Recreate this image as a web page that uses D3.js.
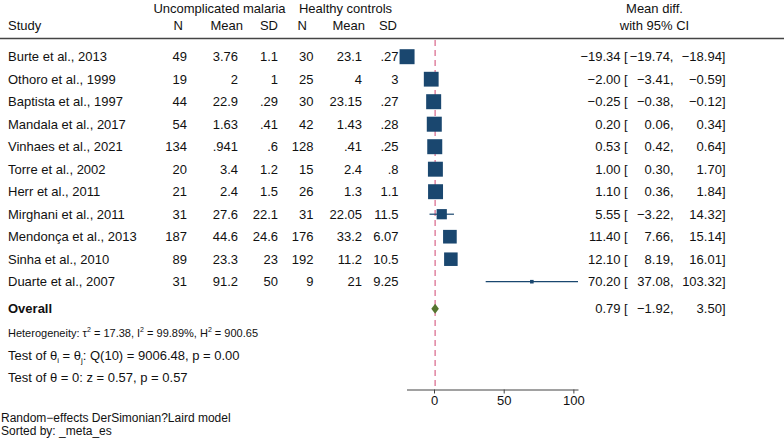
<!DOCTYPE html>
<html><head><meta charset="utf-8">
<script src="https://cdn.jsdelivr.net/npm/d3@7"></script>
<style>
html,body{margin:0;padding:0;background:#fff;}
svg text{font-family:"Liberation Sans",Arial,Helvetica,sans-serif;font-size:13px;fill:#111;}
</style></head>
<body><svg id="c" width="784" height="446"></svg>
<script>
const studies = ["Burte et al., 2013","Othoro et al., 1999","Baptista et al., 1997","Mandala et al., 2017","Vinhaes et al., 2021","Torre et al., 2002","Herr et al., 2011","Mirghani et al., 2011","Mendonça et al., 2013","Sinha et al., 2010","Duarte et al., 2007"];
const n1 = ["49","19","44","54","134","20","21","31","187","89","31"];
const mean1 = ["3.76","2","22.9","1.63",".941","3.4","2.4","27.6","44.6","23.3","91.2"];
const sd1 = ["1.1","1",".29",".41",".6","1.2","1.5","22.1","24.6","23","50"];
const n2 = ["30","25","30","42","128","15","26","31","176","192","9"];
const mean2 = ["23.1","4","23.15","1.43",".41","2.4","1.3","22.05","33.2","11.2","21"];
const sd2 = [".27","3",".27",".28",".25",".8","1.1","11.5","6.07","10.5","9.25"];
const es = [-19.34,-2.00,-0.25,0.20,0.53,1.00,1.10,5.55,11.40,12.10,70.20];
const lo = [-19.74,-3.41,-0.38,0.06,0.42,0.30,0.36,-3.22,7.66,8.19,37.08];
const hi = [-18.94,-0.59,-0.12,0.34,0.64,1.70,1.84,14.32,15.14,16.01,103.32];
const weights = [10.95,10.66,10.96,10.96,10.96,10.89,10.89,5.09,9.08,8.92,0.63];
const overall = {es:0.79, lo:-1.92, hi:3.50};
const xTicks = [0,50,100];

const svg = d3.select("#c");
const x = d3.scaleLinear().domain([d3.min(lo), d3.max(hi)]).range([406.5, 578.0]);
const y = d3.scaleLinear().domain([0,1]).range([56.7, 79.2]);
const size = d3.scaleSqrt().domain([0, d3.max(weights)]).range([0, 15]);
const fmt = d3.format(".2f");

// header
const hdr = svg.append("g");
hdr.append("text").attr("x",219.5).attr("y",8.5).attr("dy","0.35em").attr("text-anchor","middle").text("Uncomplicated malaria");
hdr.append("text").attr("x",345.5).attr("y",8.5).attr("dy","0.35em").attr("text-anchor","middle").text("Healthy controls");
hdr.append("text").attr("x",654.5).attr("y",8.5).attr("dy","0.35em").attr("text-anchor","middle").text("Mean diff.");
hdr.append("text").attr("x",8).attr("y",25).attr("dy","0.35em").text("Study");
const hcols = [["N",183],["Mean",243],["SD",278],["N",307],["Mean",365],["SD",397]];
hcols.forEach(([t,xx])=>hdr.append("text").attr("x",xx).attr("y",25).attr("dy","0.35em").attr("text-anchor","end").text(t));
hdr.append("text").attr("x",654.5).attr("y",25).attr("dy","0.35em").attr("text-anchor","middle").text("with 95% CI");
svg.append("line").attr("x1",0).attr("x2",784).attr("y1",38.5).attr("y2",38.5).attr("stroke","#444").attr("stroke-width",1.3);

// overall line
svg.append("line").attr("x1",x(overall.es)).attr("x2",x(overall.es)).attr("y1",40).attr("y2",389)
  .attr("stroke","#d8658a").attr("stroke-width",1.2).attr("stroke-dasharray","6,4");

// table
const cols = [[n1,187],[mean1,238],[sd1,278],[n2,313.5],[mean2,362],[sd2,398.5]];
const rows = svg.append("g");
studies.forEach((s,i)=>{
  const yy = y(i);
  rows.append("text").attr("x",8).attr("y",yy).attr("dy","0.35em").text(s);
  cols.forEach(([arr,xx])=>rows.append("text").attr("x",xx).attr("y",yy).attr("dy","0.35em").attr("text-anchor","end").text(arr[i]));
  rows.append("text").attr("x",620.5).attr("y",yy).attr("dy","0.35em").attr("text-anchor","end").text(fmt(es[i]));
  rows.append("text").attr("x",624).attr("y",yy).attr("dy","0.35em").text("[");
  rows.append("text").attr("x",673.5).attr("y",yy).attr("dy","0.35em").attr("text-anchor","end").text(fmt(lo[i])+",");
  rows.append("text").attr("x",725.5).attr("y",yy).attr("dy","0.35em").attr("text-anchor","end").text(fmt(hi[i])+"]");
  rows.append("line").attr("x1",x(lo[i])).attr("x2",x(hi[i])).attr("y1",yy).attr("y2",yy).attr("stroke","#1a476f").attr("stroke-width",1.2);
  const sz = size(weights[i]);
  rows.append("rect").attr("x",x(es[i])-sz/2).attr("y",yy-sz/2).attr("width",sz).attr("height",sz).attr("fill","#1a476f");
});

// overall
const oy = y(11.2);
svg.append("text").attr("x",8).attr("y",oy).attr("dy","0.35em").style("font-weight","bold").text("Overall");
svg.append("path").attr("d",`M${x(overall.lo)},${oy} L${x(overall.es)},${oy-5} L${x(overall.hi)},${oy} L${x(overall.es)},${oy+5} Z`).attr("fill","#55752f");
svg.append("text").attr("x",620.5).attr("y",oy).attr("dy","0.35em").attr("text-anchor","end").text(fmt(overall.es));
svg.append("text").attr("x",624).attr("y",oy).attr("dy","0.35em").text("[");
svg.append("text").attr("x",673.5).attr("y",oy).attr("dy","0.35em").attr("text-anchor","end").text(fmt(overall.lo)+",");
svg.append("text").attr("x",725.5).attr("y",oy).attr("dy","0.35em").attr("text-anchor","end").text(fmt(overall.hi)+"]");

// heterogeneity text
const h1 = svg.append("text").attr("x",8).attr("y",336.6).style("font-size","11px");
h1.append("tspan").text("Heterogeneity: τ");
h1.append("tspan").attr("dy",-4.5).style("font-size","7px").text("2");
h1.append("tspan").attr("dy",4.5).text(" = 17.38, I");
h1.append("tspan").attr("dy",-4.5).style("font-size","7px").text("2");
h1.append("tspan").attr("dy",4.5).text(" = 99.89%, H");
h1.append("tspan").attr("dy",-4.5).style("font-size","7px").text("2");
h1.append("tspan").attr("dy",4.5).text(" = 900.65");
const h2 = svg.append("text").attr("x",8).attr("y",359.5);
h2.append("tspan").text("Test of θ");
h2.append("tspan").attr("dy",3).style("font-size","8px").text("i");
h2.append("tspan").attr("dy",-3).text(" = θ");
h2.append("tspan").attr("dy",3).style("font-size","8px").text("j");
h2.append("tspan").attr("dy",-3).text(": Q(10) = 9006.48, p = 0.00");
svg.append("text").attr("x",8).attr("y",377.7).attr("dy","0.35em").text("Test of θ = 0: z = 0.57, p = 0.57");

// axis
const ax = svg.append("g").attr("transform","translate(0,389.5)")
  .call(d3.axisBottom(x).tickValues(xTicks).tickSize(4).tickPadding(2).tickSizeOuter(0));
ax.select(".domain").attr("stroke","#444").attr("stroke-width",1.2);
ax.selectAll(".tick line").attr("stroke","#444");
ax.selectAll(".tick text").style("font-size","13px").attr("fill","#111").attr("font-family","Liberation Sans, Arial, sans-serif");

svg.append("text").attr("x",1).attr("y",418).attr("dy","0.35em").style("font-size","12px").text("Random−effects DerSimonian?Laird model");
svg.append("text").attr("x",1).attr("y",430.5).attr("dy","0.35em").style("font-size","12px").text("Sorted by: _meta_es");
</script></body></html>
